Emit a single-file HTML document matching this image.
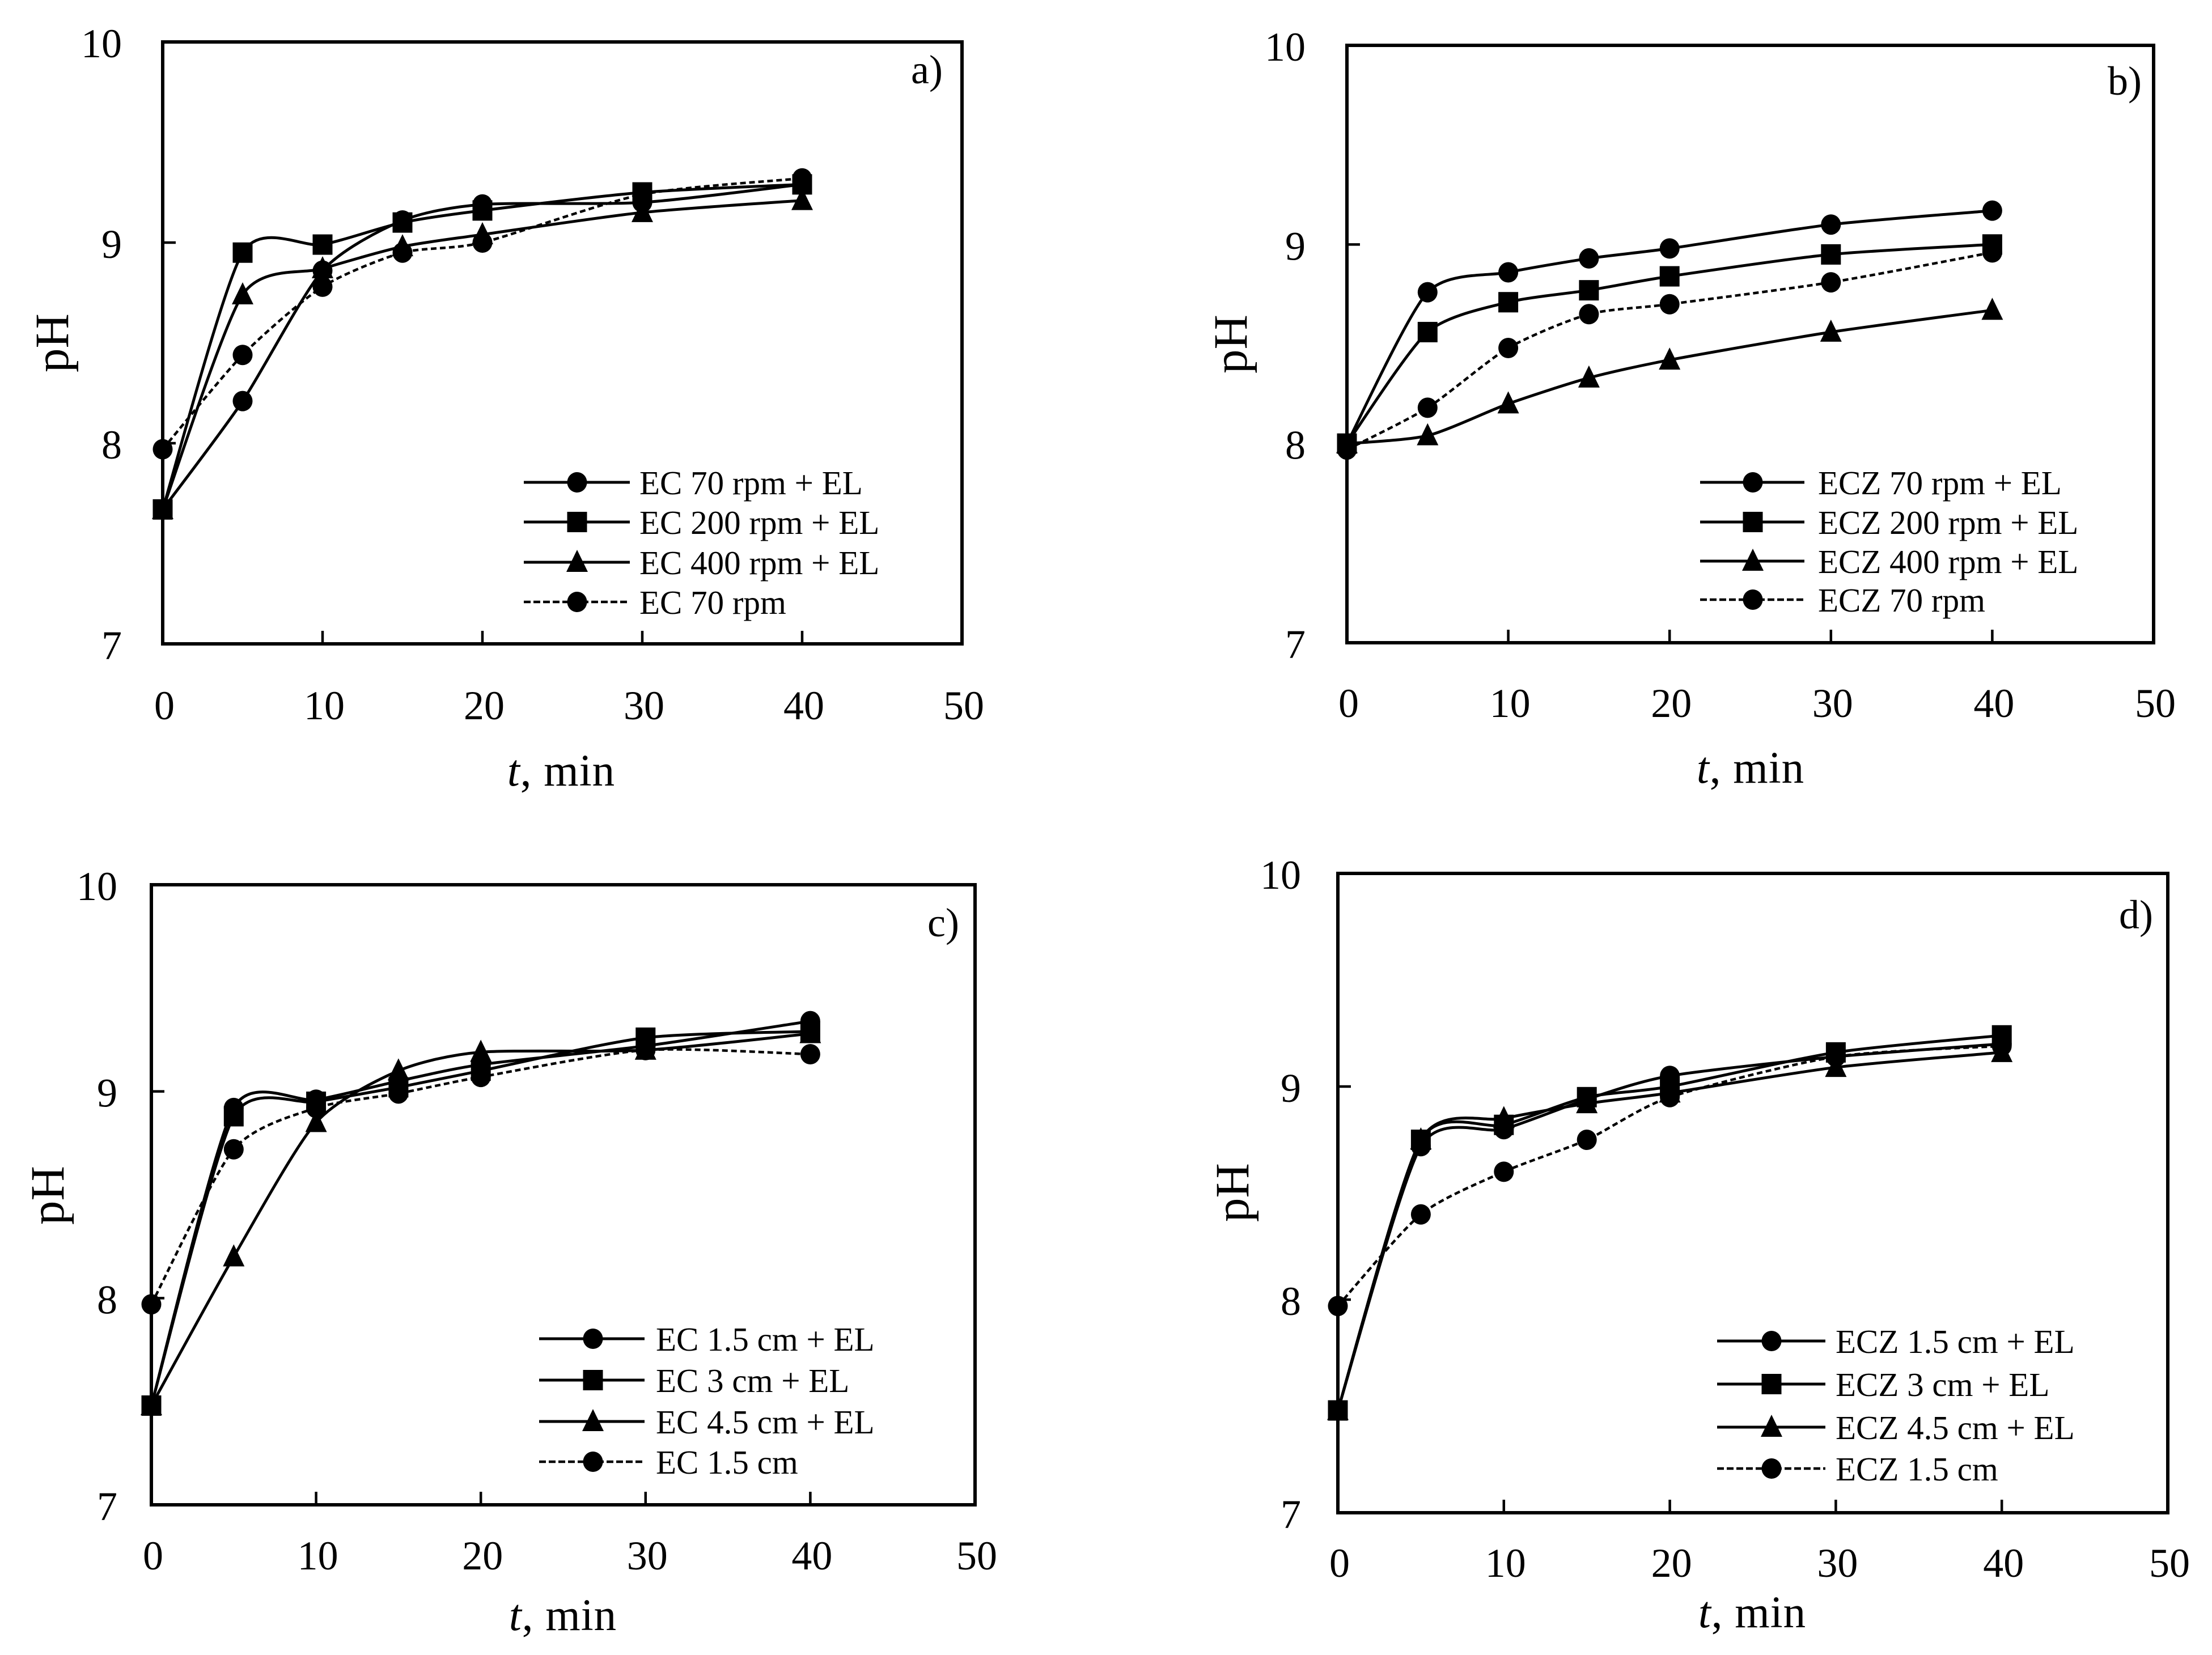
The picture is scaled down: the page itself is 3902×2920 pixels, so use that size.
<!DOCTYPE html>
<html lang="en">
<head>
<meta charset="utf-8">
<title>pH versus time, four panels</title>
<style>
html,body{margin:0;padding:0;background:#fff;}
svg{display:block;}
text{font-family:"Liberation Serif",serif;fill:#000;}
.tick{font-size:72px;}
.title{font-size:79px;letter-spacing:1px;}
.ph{font-size:85px;}
.tag{font-size:72px;}
.leg{font-size:59px;}
.frame{fill:none;stroke:#000;stroke-width:6;}
</style>
</head>
<body>
<svg id="chart" xmlns="http://www.w3.org/2000/svg" width="3902" height="2920" viewBox="0 0 3902 2920">
<rect width="3902" height="2920" fill="#fff"/>

<g id="panel-a">
  <text class="ph" transform="translate(120,605) rotate(-90)" text-anchor="middle">pH</text>
  <text class="title" x="990" y="1386" text-anchor="middle"><tspan font-style="italic">t</tspan>, min</text>
  <text class="tag" x="1607" y="147">a)</text>
  <text class="leg" x="1128" y="872">EC 70 rpm + EL</text>
  <text class="leg" x="1128" y="942">EC 200 rpm + EL</text>
  <text class="leg" x="1128" y="1013">EC 400 rpm + EL</text>
  <text class="leg" x="1128" y="1083">EC 70 rpm</text>
</g>

<g id="panel-b">
  <text class="ph" transform="translate(2199,607) rotate(-90)" text-anchor="middle">pH</text>
  <text class="title" x="3088" y="1381" text-anchor="middle"><tspan font-style="italic">t</tspan>, min</text>
  <text class="tag" x="3718" y="167">b)</text>
  <text class="leg" x="3207" y="872">ECZ 70 rpm + EL</text>
  <text class="leg" x="3207" y="942">ECZ 200 rpm + EL</text>
  <text class="leg" x="3207" y="1011">ECZ 400 rpm + EL</text>
  <text class="leg" x="3207" y="1079">ECZ 70 rpm</text>
</g>

<g id="panel-c">
  <text class="ph" transform="translate(112,2109) rotate(-90)" text-anchor="middle">pH</text>
  <text class="title" x="993" y="2876" text-anchor="middle"><tspan font-style="italic">t</tspan>, min</text>
  <text class="tag" x="1636" y="1652">c)</text>
  <text class="leg" x="1157" y="2383">EC 1.5 cm + EL</text>
  <text class="leg" x="1157" y="2456">EC 3 cm + EL</text>
  <text class="leg" x="1157" y="2529">EC 4.5 cm + EL</text>
  <text class="leg" x="1157" y="2600">EC 1.5 cm</text>
</g>

<g id="panel-d">
  <text class="ph" transform="translate(2202,2104) rotate(-90)" text-anchor="middle">pH</text>
  <text class="title" x="3091" y="2871" text-anchor="middle"><tspan font-style="italic">t</tspan>, min</text>
  <text class="tag" x="3738" y="1638">d)</text>
  <text class="leg" x="3238" y="2387">ECZ 1.5 cm + EL</text>
  <text class="leg" x="3238" y="2463">ECZ 3 cm + EL</text>
  <text class="leg" x="3238" y="2539">ECZ 4.5 cm + EL</text>
  <text class="leg" x="3238" y="2612">ECZ 1.5 cm</text>
</g>
</svg>

<script>
// ---- Data ----
const times = [0, 5, 10, 15, 20, 30, 40];
const xTickLabels = [0, 10, 20, 30, 40, 50];
const yTickLabels = [7, 8, 9, 10];

const a70El  = [7.67, 8.21, 8.86, 9.11, 9.19, 9.20, 9.29];
const a200El = [7.67, 8.95, 8.99, 9.10, 9.16, 9.25, 9.29];
const a400El = [7.67, 8.74, 8.87, 8.98, 9.04, 9.15, 9.21];
const a70    = [7.97, 8.44, 8.78, 8.95, 9.00, 9.24, 9.32];

const b70El  = [8.00, 8.76, 8.86, 8.93, 8.98, 9.10, 9.17];
const b200El = [8.00, 8.56, 8.71, 8.77, 8.84, 8.95, 9.00];
const b400El = [8.00, 8.04, 8.20, 8.33, 8.42, 8.56, 8.67];
const b70    = [7.97, 8.18, 8.48, 8.65, 8.70, 8.81, 8.96];

const c15El  = [7.48, 8.92, 8.96, 9.05, 9.13, 9.22, 9.34];
const c3El   = [7.48, 8.88, 8.95, 9.02, 9.10, 9.26, 9.29];
const c45El  = [7.48, 8.20, 8.85, 9.10, 9.19, 9.20, 9.28];
const c15    = [7.97, 8.72, 8.92, 8.99, 9.07, 9.20, 9.18];

const d15El  = [7.48, 8.72, 8.80, 8.94, 9.05, 9.14, 9.20];
const d3El   = [7.48, 8.75, 8.82, 8.95, 9.00, 9.16, 9.24];
const d45El  = [7.48, 8.75, 8.85, 8.92, 8.97, 9.09, 9.16];
const d15    = [7.97, 8.40, 8.60, 8.75, 8.95, 9.14, 9.19];

const markerKinds = ['circle', 'square', 'triangle', 'circle'];

// ---- Layout ----
const panels = [
  {id:'a', series:[a70El,a200El,a400El,a70], box:[287,1697,74,1136], yLabelX:215, xLabelY:1269,
   legend:{x0:924,x1:1111,mx:1018,rows:[851,921,992,1062]}},
  {id:'b', series:[b70El,b200El,b400El,b70], box:[2376,3799,80,1134], yLabelX:2303, xLabelY:1265,
   legend:{x0:2999,x1:3183,mx:3092,rows:[851,921,990,1058]}},
  {id:'c', series:[c15El,c3El,c45El,c15], box:[267,1720,1561,2655], yLabelX:207, xLabelY:2769,
   legend:{x0:951,x1:1137,mx:1046,rows:[2362,2435,2508,2579]}},
  {id:'d', series:[d15El,d3El,d45El,d15], box:[2360,3824,1541,2669], yLabelX:2295, xLabelY:2782,
   legend:{x0:3029,x1:3220,mx:3125,rows:[2366,2442,2518,2591]}}
];

const NS = 'http://www.w3.org/2000/svg';
function make(tag, attrs, parent) {
  const el = document.createElementNS(NS, tag);
  for (const k in attrs) el.setAttribute(k, attrs[k]);
  parent.appendChild(el);
  return el;
}

// Smooth line in the style of spreadsheet "smoothed" scatter series
const HANDLE_CAP = 0.12;
function smoothPath(pts) {
  let d = 'M' + pts[0][0].toFixed(1) + ' ' + pts[0][1].toFixed(1);
  const len = (p, q) => Math.hypot(q[0] - p[0], q[1] - p[1]);
  for (let i = 0; i < pts.length - 1; i++) {
    const p0 = pts[Math.max(i - 1, 0)], p1 = pts[i], p2 = pts[i + 1], p3 = pts[Math.min(i + 2, pts.length - 1)];
    const seg = len(p1, p2);
    const k1 = Math.min(HANDLE_CAP, 0.5 * seg / ((len(p0, p1) + seg) || 1));
    const k2 = Math.min(HANDLE_CAP, 0.5 * seg / ((seg + len(p2, p3)) || 1));
    const c1 = [p1[0] + (p2[0] - p0[0]) * k1, p1[1] + (p2[1] - p0[1]) * k1];
    const c2 = [p2[0] - (p3[0] - p1[0]) * k2, p2[1] - (p3[1] - p1[1]) * k2];
    d += 'C' + c1[0].toFixed(1) + ' ' + c1[1].toFixed(1) + ' ' + c2[0].toFixed(1) + ' ' + c2[1].toFixed(1) + ' ' + p2[0].toFixed(1) + ' ' + p2[1].toFixed(1);
  }
  return d;
}

function marker(kind, cx, cy, parent) {
  if (kind === 'circle') return make('ellipse', {cx:cx, cy:cy, rx:17.5, ry:18, fill:'#000'}, parent);
  if (kind === 'square') return make('rect', {x:cx - 17.5, y:cy - 18, width:35, height:36, fill:'#000'}, parent);
  return make('polygon', {points:(cx) + ',' + (cy - 22) + ' ' + (cx + 19) + ',' + (cy + 17) + ' ' + (cx - 19) + ',' + (cy + 17), fill:'#000'}, parent);
}

panels.forEach(function (p) {
  const root = document.getElementById('panel-' + p.id);
  const left = p.box[0], right = p.box[1], top = p.box[2], bottom = p.box[3];
  const xScale = function (v) { return left + (v - 0) / 50 * (right - left); };
  const yScale = function (v) { return bottom - (v - 7) / 3 * (bottom - top); };

  // frame
  const frame = make('rect', {x:left, y:top, width:right - left, height:bottom - top, class:'frame'}, root);
  
  

  // x ticks and labels
  xTickLabels.forEach(function (v) {
    const tx = xScale(v);
    const tick = make('line', {x1:tx, x2:tx, y1:bottom, y2:bottom - 23, stroke:'#000', 'stroke-width':4.5}, root);
    
    
    const lab = make('text', {x:tx + 3, y:p.xLabelY, 'text-anchor':'middle', class:'tick'}, root);
    lab.textContent = v;
    
    
  });

  // y ticks and labels
  yTickLabels.forEach(function (v) {
    const ty = yScale(v);
    const tick = make('line', {x1:left, x2:left + 23, y1:ty, y2:ty, stroke:'#000', 'stroke-width':4.5}, root);
    
    
    const lab = make('text', {x:p.yLabelX, y:ty + 27, 'text-anchor':'end', class:'tick'}, root);
    lab.textContent = v;
    
    
  });

  // series
  p.series.forEach(function (vals, si) {
    const dashed = si === 3;
    const pts = vals.map(function (v, i) { return [xScale(times[i]), yScale(v)]; });
    const line = make('path', {d:smoothPath(pts), fill:'none', stroke:'#000', 'stroke-width':dashed ? 4.5 : 5}, root);
    if (dashed) line.setAttribute('stroke-dasharray', '10 6');
    
    
    pts.forEach(function (pt) {
      const m = marker(markerKinds[si], pt[0], pt[1], root);
      
      
    });

    // legend swatch
    const ly = p.legend.rows[si];
    const sw = make('line', {x1:p.legend.x0, x2:p.legend.x1, y1:ly, y2:ly, stroke:'#000', 'stroke-width':dashed ? 4.5 : 5}, root);
    if (dashed) sw.setAttribute('stroke-dasharray', '12 5');
    
    
    const lm = marker(markerKinds[si], p.legend.mx, ly, root);
    
    
  });
});
</script>
</body>
</html>
